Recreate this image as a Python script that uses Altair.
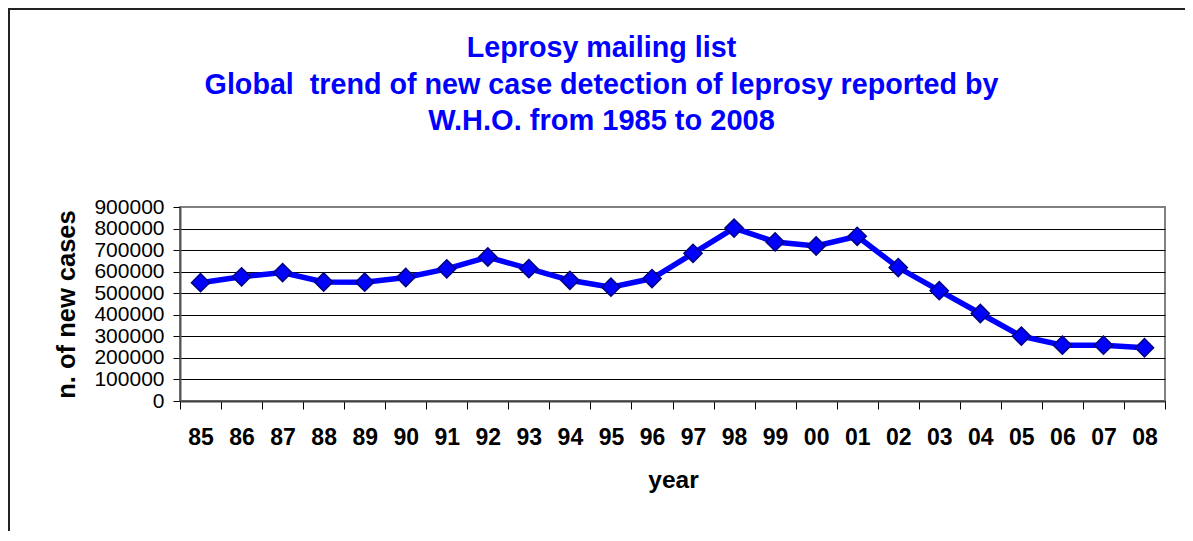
import altair as alt
import pandas as pd

years = ["85", "86", "87", "88", "89", "90", "91", "92", "93", "94", "95", "96",
         "97", "98", "99", "00", "01", "02", "03", "04", "05", "06", "07", "08"]
cases = [549000, 576000, 596000, 552000, 551000, 573000, 613000, 668000, 614000,
         560000, 528000, 568000, 685000, 802000, 738000, 719000, 764000, 619000,
         512000, 406000, 301000, 259000, 259000, 247000]
y_ticks = [0, 100000, 200000, 300000, 400000, 500000, 600000, 700000, 800000, 900000]
title_lines = ["Leprosy mailing list",
               "Global\u00a0 trend of new case detection of leprosy reported by",
               "W.H.O. from 1985 to 2008"]

df = pd.DataFrame({"year": years, "cases": cases})
one = pd.DataFrame({"k": [0]})
FONT = "Liberation Sans"

x_enc = alt.X("year:N", sort=years,
              scale=alt.Scale(type="band", paddingInner=0, paddingOuter=0),
              axis=alt.Axis(title="year", labelAngle=0, labelFontSize=23,
                            labelFontWeight="bold", labelColor="black",
                            labelPadding=17, tickBand="extent", tickSize=8,
                            tickColor="black", domainColor="#404040", domainWidth=2,
                            titleFontSize=24.5, titleFontWeight="bold", titleColor="black",
                            titleX=493, titleY=79, titleBaseline="middle", grid=False))
y_enc = alt.Y("cases:Q", scale=alt.Scale(domain=[0, 900000], nice=False),
              axis=alt.Axis(title="n. of new cases", values=y_ticks, format="d",
                            labelFontSize=21, labelColor="black", labelPadding=9,
                            tickSize=7, tickColor="black", domainColor="#555555",
                            domainWidth=2, grid=True,
                            gridColor=alt.condition("datum.value == 900000",
                                                    alt.value("#808080"), alt.value("black")),
                            gridWidth=1,
                            titleFontSize=25.5, titleFontWeight="bold", titleColor="black",
                            titleAngle=270, titleX=-114, titleY=97, titleAlign="center",
                            titleBaseline="middle"))

line = alt.Chart(df).mark_line(color="#0000FF", strokeWidth=5.5).encode(x=x_enc, y=y_enc)
pts = alt.Chart(df).mark_point(shape="diamond", filled=True, size=330, color="#0000FF",
                               fill="#0000FF", stroke="#000080", strokeWidth=1.5,
                               opacity=1).encode(x=x_enc, y=y_enc)

frame = alt.Chart(one).mark_rect(
    filled=False, stroke="#222222", strokeWidth=2).encode(
    x=alt.value(-171), x2=alt.value(1300), y=alt.value(-198), y2=alt.value(600))

title_y = [-150, -113, -77]
title_size = [28.7, 28.7, 29]
titles = [
    alt.Chart(one).mark_text(font=FONT, fontSize=fs, fontWeight="bold", color="#0000FF",
                             align="center", baseline="alphabetic").encode(
        x=alt.value(421.5), y=alt.value(ty), text=alt.value(t))
    for t, ty, fs in zip(title_lines, title_y, title_size)
]

chart = alt.layer(frame, *titles, line, pts).properties(
    width=985, height=194,
    autosize=alt.AutoSizeParams(type="none"),
    padding={"left": 172, "top": 199, "right": 20, "bottom": 130},
).configure(font=FONT).configure_view(stroke="#808080", strokeWidth=2)

chart.save("out.html", embed_options={"renderer": "svg", "actions": False})
